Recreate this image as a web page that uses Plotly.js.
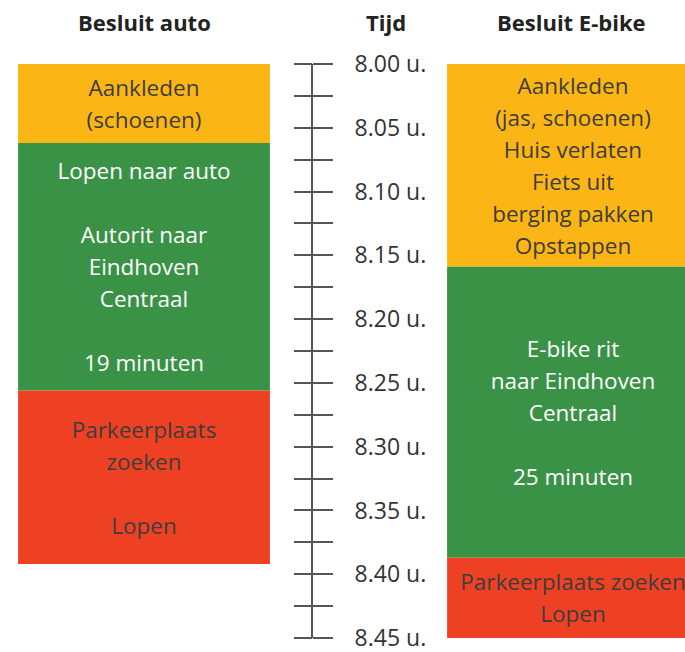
<!DOCTYPE html>
<html><head><meta charset="utf-8">
<script src="https://cdn.plot.ly/plotly-3.0.1.min.js"></script>
<style>html,body{margin:0;padding:0;background:#fff}</style>
</head><body><div id="chart" style="width:685px;height:652px"></div>
<script>
const columns = ['Besluit auto', 'Besluit E-bike'];
const timeHeader = 'Tijd';
const autoLabels = ['Aankleden<br>(schoenen)', 'Lopen naar auto<br><br>Autorit naar<br>Eindhoven<br>Centraal<br><br>19 minuten', 'Parkeerplaats<br>zoeken<br><br>Lopen'];
const autoMinutes = [6.2, 19.4, 13.6];
const ebikeLabels = ['Aankleden<br>(jas, schoenen)<br>Huis verlaten<br>Fiets uit<br>berging pakken<br>Opstappen', 'E-bike rit<br>naar Eindhoven<br>Centraal<br><br>25 minuten', 'Parkeerplaats zoeken<br>Lopen'];
const ebikeMinutes = [15.9, 22.8, 6.3];
const segmentColors = ['#FBB616', '#3A9246', '#EE4124'];
const segmentTextColors = ['#3d3d3d', '#ffffff', '#3d3d3d'];
const tickMinutes = [0, 2.5, 5, 7.5, 10, 12.5, 15, 17.5, 20, 22.5, 25, 27.5, 30, 32.5, 35, 37.5, 40, 42.5, 45];
const tickLabels = ['8.00 u.', '', '8.05 u.', '', '8.10 u.', '', '8.15 u.', '', '8.20 u.', '', '8.25 u.', '', '8.30 u.', '', '8.35 u.', '', '8.40 u.', '', '8.45 u.'];

const FONT = 'Open Sans, sans-serif';
const textSize = 22.5;
function starts(d) { let s = 0; return d.map(v => { const b = s; s += v; return b; }); }
function fmt(t) { return t.split('<br>').map(l => '<span style="font-size:' + textSize + 'px">' + l + '</span>').join('<br>'); }

function colTrace(col, mins, labels, yax) {
  return {
    type: 'bar', x: mins.map(() => col), y: mins, base: starts(mins),
    yaxis: yax, xaxis: 'x',
    marker: {color: segmentColors, line: {width: 0}},
    text: labels.map(fmt), textposition: 'inside', insidetextanchor: 'middle',
    constraintext: 'none', textangle: 0,
    insidetextfont: {family: FONT, size: 24.6, color: segmentTextColors},
    hoverinfo: 'skip'
  };
}

const traces = [
  colTrace(columns[0], autoMinutes, autoLabels, 'y'),
  colTrace(columns[1], ebikeMinutes, ebikeLabels, 'y2')
];

const axCommon = {
  range: [45, 0], anchor: 'free', position: 312 / 685,
  tickvals: tickMinutes, ticks: 'outside', tickwidth: 2, tickcolor: '#555',
  showgrid: false, zeroline: false, fixedrange: true
};

const headFont = {family: FONT, size: 22, color: '#222'};
const headY = 1 - 22 / 652;

const layout = {
  width: 685, height: 652, margin: {l: 0, r: 0, t: 0, b: 0},
  paper_bgcolor: '#fff', plot_bgcolor: 'rgba(0,0,0,0)', showlegend: false,
  barmode: 'overlay', bargap: 0.413,
  xaxis: {type: 'category', categoryarray: columns, range: [-144 / 429, 541 / 429], visible: false, fixedrange: true},
  yaxis: Object.assign({}, axCommon, {
    domain: [1 - 638 / 652, 1 - 64 / 652], side: 'right', ticklen: 20,
    ticktext: tickLabels, showline: true, linewidth: 2, linecolor: '#555',
    tickfont: {family: FONT, size: 23, color: '#333'}, ticklabelstandoff: 17,
    ticklabeloverflow: 'allow'
  }),
  yaxis2: Object.assign({}, axCommon, {
    overlaying: 'y', side: 'left', ticklen: 18, showticklabels: false, showline: false
  }),
  annotations: [
    {xref: 'x', yref: 'paper', x: columns[0], y: headY, yanchor: 'middle', text: '<b>' + columns[0] + '</b>', showarrow: false, font: headFont},
    {xref: 'paper', yref: 'paper', x: 386 / 685, y: headY, yanchor: 'middle', text: '<b>' + timeHeader + '</b>', showarrow: false, font: headFont},
    {xref: 'x', yref: 'paper', x: columns[1], y: headY, yanchor: 'middle', xshift: -2, text: '<b>' + columns[1] + '</b>', showarrow: false, font: headFont}
  ]
};

Plotly.newPlot('chart', traces, layout, {displayModeBar: false, staticPlot: true});
</script></body></html>
